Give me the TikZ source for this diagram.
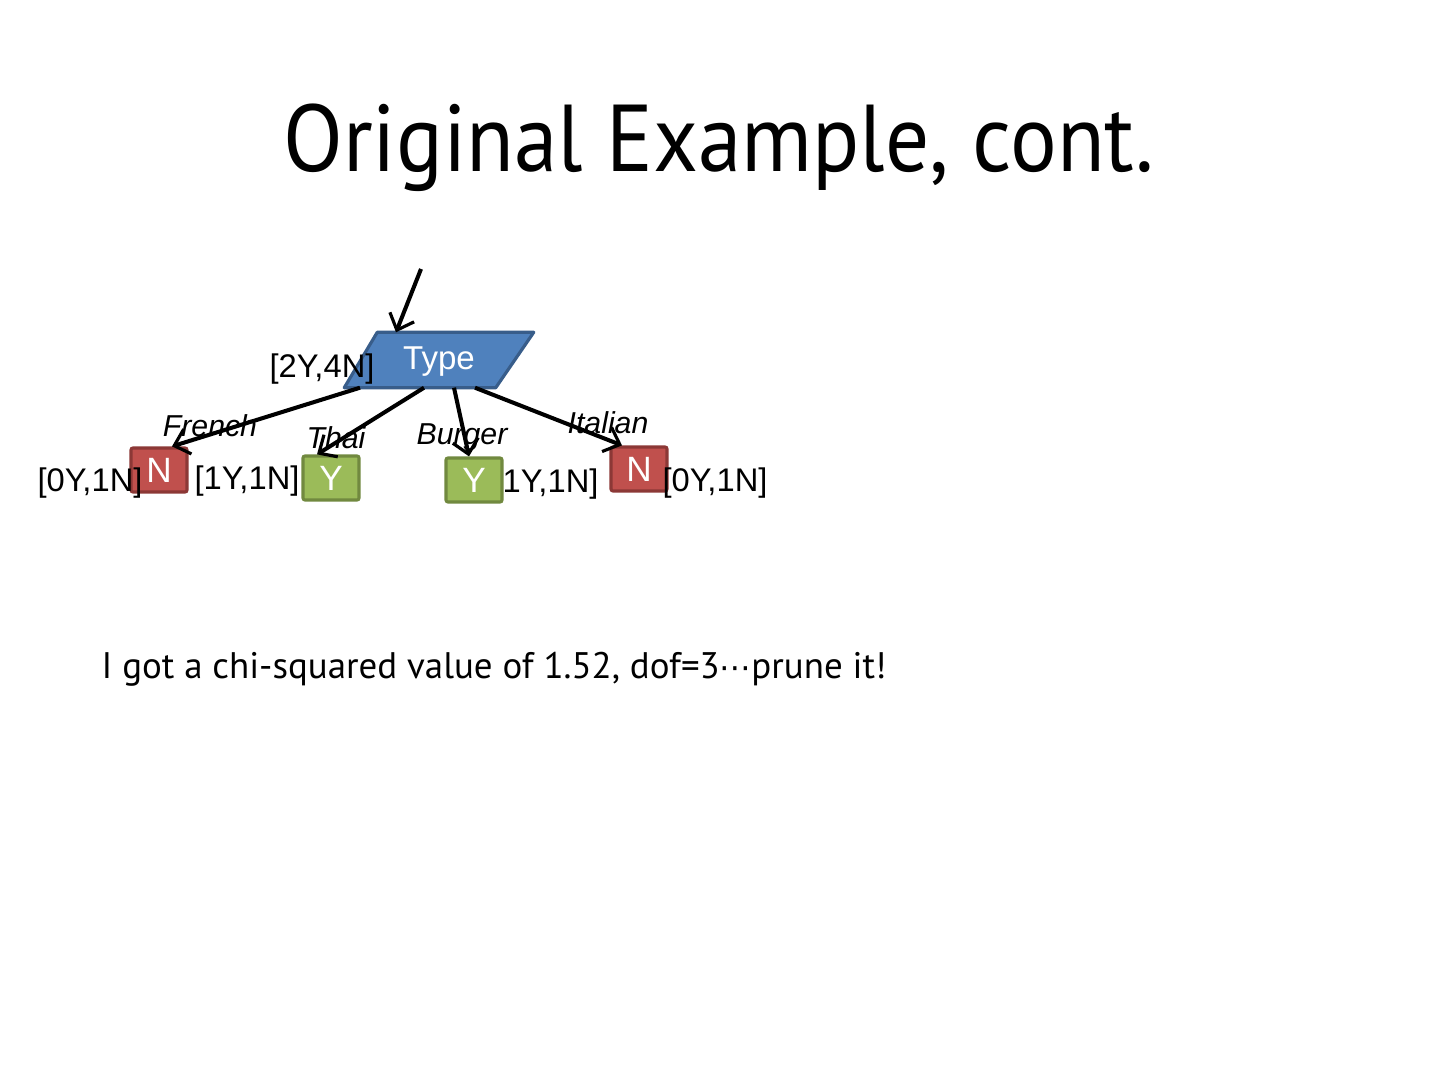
\documentclass[tikz,border=0pt]{standalone}
\usepackage{fontspec}
\setmainfont{Liberation Sans}
\newfontfamily\titlefont[FakeStretch=0.92]{PT Sans}
\newfontfamily\bodyfont{PT Sans}
\newfontfamily\dejavu{DejaVu Sans}
\usetikzlibrary{arrows.meta,calc}
\definecolor{typeblue}{RGB}{79,129,189}
\definecolor{typeborder}{RGB}{56,93,138}
\definecolor{leafred}{RGB}{192,80,77}
\definecolor{redborder}{RGB}{140,56,54}
\definecolor{leafgreen}{RGB}{155,187,89}
\definecolor{greenborder}{RGB}{113,137,63}
\tikzset{
  leafbox/.style={draw, line width=0.9pt, rounded corners=0.6pt, minimum width=0.56cm, minimum height=0.44cm, inner sep=0pt, text=white, font=\fontsize{10}{11}\selectfont},
  nleaf/.style={leafbox, fill=leafred, draw=redborder},
  yleaf/.style={leafbox, fill=leafgreen, draw=greenborder},
  countlbl/.style={inner sep=0pt, font=\fontsize{9.3}{10}\selectfont},
  edgelbl/.style={inner sep=0pt, font=\fontsize{8.6}{10}\selectfont\itshape},
  branch/.style={line width=1.15pt, -{Straight Barb[length=1.4mm,width=2.6mm,line width=0.9pt]}}
}
\begin{document}
\begin{tikzpicture}[x=0.01cm,y=-0.01cm]
\useasboundingbox (0,0) rectangle (1440,1080);
\fill[white] (0,0) rectangle (1440,1080);
% title
\node[anchor=base, inner sep=0pt, font=\titlefont\fontsize{27}{32}\selectfont] (title) at (719,172) {Original Example, cont.};
% label partly hidden behind Y box
\node[countlbl] (c4) at (546,484) {[1Y,1N]};
% root
\node[minimum width=1.55cm, minimum height=0.54cm, inner sep=0pt] (type) at (438,360) {};
\draw[fill=typeblue, draw=typeborder, line width=0.9pt, line join=round]
  ($(type.north west)+(17.5,0)$) -- ($(type.north east)+(17.5,0)$) -- ($(type.south east)+(-20.5,0)$) -- ($(type.south west)+(-15.5,0)$) -- cycle;
\node[text=white, inner sep=0pt, font=\fontsize{9.4}{11}\selectfont] (typelbl) at (439,362) {Type};
\coordinate (start) at (421,269);
% leaves
\node[nleaf] (n1) at (159,470) {N};
\node[yleaf] (y1) at (331,478) {Y};
\node[yleaf] (y2) at (474,480) {Y};
\node[nleaf] (n2) at (639,469) {N};
% edges
\draw[branch] (start) -- ($(type.north)+(-42,0)$);
\draw[branch] ($(type.south)+(-78,0)$) -- ($(n1.north)+(13,0)$);
\draw[branch] ($(type.south)+(-14,0)$) -- ($(y1.north)+(-14,0)$);
\draw[branch] ($(type.south)+(16,0)$) -- ($(y2.north)+(-5,0)$);
\draw[branch] ($(type.south)+(37,0)$) -- ($(n2.north)+(-17,0)$);
% labels
\node[countlbl] (c0) at (322,369) {[2Y,4N]};
\node[countlbl] (c1) at (90,483) {[0Y,1N]};
\node[countlbl] (c2) at (247,481) {[1Y,1N]};
\node[countlbl] (c3) at (715,483) {[0Y,1N]};
\node[edgelbl] (e1) at (210,426) {French};
\node[edgelbl] (e2) at (336,438) {Thai};
\node[edgelbl] (e3) at (462,437) {Burger};
\node[edgelbl] (e4) at (608,423) {Italian};
% body
\node[anchor=base west, inner sep=0pt, font=\bodyfont\fontsize{10.5}{12}\selectfont] (body) at (101,679) {I got a chi-squared value of 1.52, dof=3{\dejavu\fontsize{9}{10}\selectfont ⋯}prune it!};
\end{tikzpicture}
\end{document}
